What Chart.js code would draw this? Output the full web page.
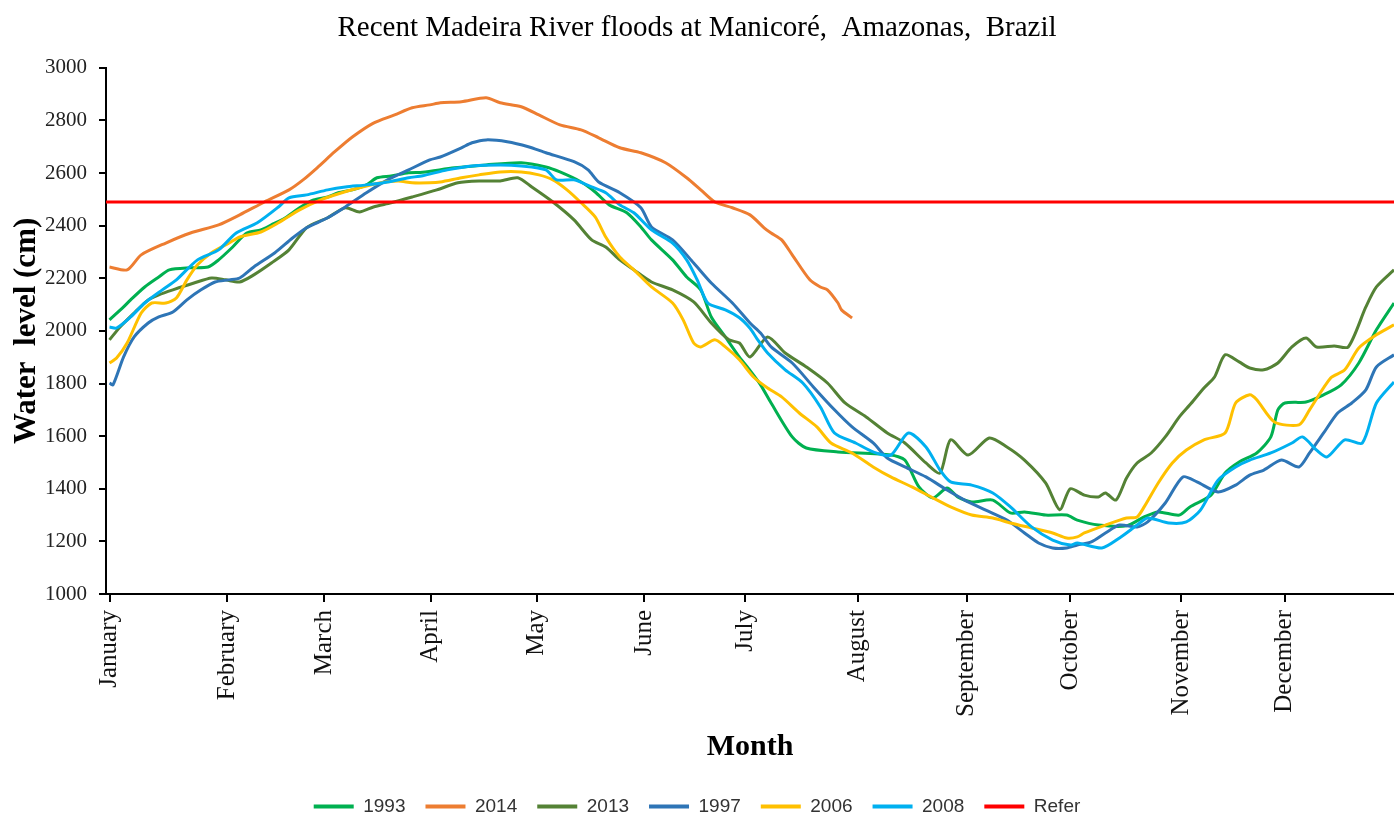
<!DOCTYPE html>
<html><head><meta charset="utf-8">
<script src="https://cdn.jsdelivr.net/npm/chart.js@4.4.1/dist/chart.umd.min.js"></script>
<style>html,body{margin:0;padding:0;background:#fff}</style>
</head><body>
<canvas id="c" width="1394" height="817"></canvas>
<script>
// ---- data (x = day of year, y = water level in cm) ----
const monthLabels = ['January','February','March','April','May','June','July','August','September','October','November','December'];
const monthTickDays = [0, 33.5, 61, 91.3, 121.4, 152, 180.6, 212.6, 243.6, 273, 304.5, 334];
const seriesNames = ['1993','2014','2013','1997','2006','2008','Refer'];
const referLevel = 2490;
const referDays = [-1, 365];

const lvl1993 = [[0,2042],[4,2091],[6,2118],[10,2167],[14,2205],[17,2232],[23,2240],[28,2243],[31,2270],[35,2319],[39,2372],[43,2384],[46,2403],[50,2430],[54,2468],[58,2498],[62,2509],[65,2525],[69,2536],[73,2555],[76,2582],[80,2589],[85,2601],[89,2603],[98,2620],[107,2631],[117,2639],[124,2623],[128,2604],[134,2566],[138,2528],[142,2479],[147,2449],[151,2395],[154,2346],[160,2270],[164,2205],[168,2156],[171,2053],[175,1977],[179,1900],[182,1850],[185,1795],[188,1726],[194,1597],[198,1555],[207,1540],[222,1528],[226,1509],[230,1407],[234,1365],[238,1403],[241,1369],[245,1350],[251,1357],[256,1308],[260,1312],[266,1300],[272,1300],[275,1281],[281,1262],[289,1259],[294,1293],[298,1312],[304,1300],[307,1331],[313,1376],[317,1460],[321,1502],[326,1536],[330,1597],[332,1700],[334,1726],[340,1730],[345,1757],[350,1795],[355,1878],[360,2004],[365,2106]];

const lvl2014 = [[0,2243],[5,2232],[9,2289],[16,2334],[23,2372],[31,2403],[37,2441],[44,2490],[51,2536],[55,2574],[59,2620],[64,2681],[69,2737],[75,2790],[81,2821],[86,2848],[91,2859],[94,2867],[100,2871],[107,2886],[111,2867],[117,2852],[122,2821],[128,2783],[134,2764],[139,2734],[145,2696],[151,2677],[158,2639],[164,2582],[168,2536],[172,2490],[177,2468],[182,2441],[186,2392],[188,2372],[191,2346],[194,2289],[199,2194],[202,2167],[204,2156],[207,2106],[208,2080],[211,2049]];

const lvl2013 = [[0,1966],[3,2015],[7,2068],[11,2118],[14,2137],[18,2156],[24,2182],[29,2201],[33,2194],[37,2186],[41,2213],[46,2258],[51,2308],[56,2392],[62,2430],[67,2468],[71,2452],[75,2471],[80,2487],[86,2509],[93,2536],[99,2563],[105,2570],[111,2570],[116,2582],[120,2547],[126,2490],[132,2422],[137,2346],[141,2319],[145,2270],[149,2232],[154,2186],[160,2156],[166,2110],[171,2030],[176,1966],[179,1954],[182,1901],[187,1977],[192,1916],[198,1863],[204,1802],[209,1726],[215,1673],[221,1612],[226,1574],[232,1498],[236,1460],[239,1586],[244,1528],[250,1593],[255,1559],[260,1509],[266,1422],[270,1320],[273,1400],[277,1376],[281,1369],[283,1384],[286,1357],[289,1441],[292,1498],[296,1536],[300,1597],[304,1673],[307,1719],[311,1783],[314,1825],[317,1909],[321,1882],[324,1859],[328,1852],[332,1878],[336,1939],[340,1973],[343,1939],[348,1943],[352,1939],[357,2091],[360,2167],[365,2232]];

const lvl1997 = [[0,1802],[1,1795],[4,1901],[7,1977],[11,2030],[14,2053],[18,2072],[22,2118],[26,2156],[30,2186],[34,2194],[37,2201],[41,2243],[47,2297],[52,2353],[56,2392],[62,2430],[67,2471],[73,2525],[79,2574],[85,2612],[91,2650],[94,2661],[100,2696],[103,2715],[107,2726],[113,2719],[119,2700],[124,2677],[132,2643],[136,2612],[139,2566],[145,2525],[151,2468],[154,2395],[160,2346],[166,2258],[171,2182],[177,2106],[182,2030],[185,1992],[188,1939],[194,1878],[200,1787],[206,1700],[211,1635],[217,1574],[221,1517],[226,1483],[232,1445],[238,1395],[243,1357],[249,1319],[255,1281],[260,1232],[264,1194],[268,1175],[272,1175],[275,1186],[279,1198],[283,1232],[287,1262],[292,1255],[295,1274],[300,1346],[305,1445],[309,1426],[315,1388],[320,1414],[324,1452],[328,1471],[333,1509],[338,1483],[341,1536],[345,1612],[349,1688],[353,1726],[357,1776],[360,1863],[365,1909]];

const lvl2006 = [[0,1878],[2,1897],[5,1954],[9,2068],[12,2106],[16,2106],[19,2125],[22,2194],[25,2251],[29,2297],[34,2334],[37,2357],[43,2376],[48,2411],[54,2460],[60,2498],[66,2525],[71,2544],[77,2563],[82,2570],[86,2563],[91,2563],[94,2566],[100,2582],[105,2593],[111,2604],[117,2604],[122,2593],[126,2574],[130,2536],[134,2487],[138,2433],[141,2357],[145,2281],[149,2232],[154,2167],[160,2106],[163,2042],[166,1954],[168,1939],[172,1966],[175,1939],[179,1890],[183,1825],[187,1783],[191,1749],[196,1688],[201,1635],[205,1574],[211,1536],[217,1483],[222,1445],[228,1407],[234,1365],[239,1331],[245,1300],[251,1289],[256,1270],[262,1251],[268,1232],[272,1213],[275,1217],[277,1232],[283,1262],[289,1289],[292,1293],[294,1331],[298,1422],[302,1498],[306,1547],[311,1586],[317,1612],[320,1726],[324,1757],[326,1738],[331,1654],[338,1643],[341,1700],[347,1821],[351,1852],[355,1935],[360,1985],[365,2023]];

const lvl2008 = [[0,2015],[2,2011],[6,2053],[10,2106],[15,2156],[19,2194],[25,2270],[31,2308],[36,2372],[42,2411],[48,2471],[51,2506],[56,2517],[62,2536],[67,2547],[73,2555],[79,2566],[85,2582],[89,2590],[96,2612],[103,2627],[111,2631],[117,2627],[124,2612],[127,2574],[132,2574],[137,2547],[141,2525],[145,2479],[149,2449],[154,2384],[160,2334],[164,2270],[167,2194],[170,2106],[175,2080],[179,2050],[182,2010],[184,1970],[187,1916],[192,1852],[197,1802],[202,1711],[206,1612],[212,1574],[217,1540],[222,1528],[227,1612],[232,1559],[236,1471],[239,1426],[245,1414],[251,1384],[256,1331],[262,1255],[268,1205],[273,1186],[275,1194],[282,1175],[287,1213],[292,1262],[295,1289],[301,1270],[306,1274],[310,1319],[315,1433],[320,1483],[324,1509],[330,1536],[336,1574],[339,1597],[343,1547],[346,1521],[351,1586],[356,1574],[360,1726],[365,1806]];

// ---- chart ----
const colors = ['#00B050','#ED7D31','#548235','#2E75B6','#FFC000','#00B0F0','#FF0000'];
const seriesData = [lvl1993, lvl2014, lvl2013, lvl1997, lvl2006, lvl2008, referDays.map(d => [d, referLevel])];

const datasets = seriesData.map((arr, i) => ({
  label: seriesNames[i],
  data: arr.map(p => ({x: p[0], y: p[1]})),
  borderColor: colors[i],
  backgroundColor: colors[i],
  borderWidth: 3,
  pointRadius: 0,
  tension: i === 6 ? 0 : 0.25,
  fill: false,
  order: seriesNames.length - 1 - i
}));

const serif = "'Liberation Serif', 'Times New Roman', serif";

new Chart(document.getElementById('c'), {
  type: 'line',
  data: { datasets },
  options: {
    responsive: false,
    animation: false,
    layout: { padding: { left: 0, right: 0, top: 0, bottom: -9 } },
    plugins: {
      title: {
        display: true,
        text: 'Recent Madeira River floods at Manicoré,  Amazonas,  Brazil',
        color: '#000',
        font: { family: serif, size: 29, weight: 'normal' },
        padding: { top: 11, bottom: 22 }
      },
      legend: {
        position: 'bottom',
        labels: {
          boxWidth: 40,
          boxHeight: 4,
          padding: 20,
          color: '#333',
          font: { family: "'Liberation Sans', Arial, sans-serif", size: 19 },
          sort: (a, b) => a.datasetIndex - b.datasetIndex,
          generateLabels: (chart) => {
            const items = Chart.defaults.plugins.legend.labels.generateLabels(chart);
            items.forEach(it => { it.fillStyle = it.strokeStyle; it.lineWidth = 0; });
            return items;
          }
        }
      },
      tooltip: { enabled: false }
    },
    scales: {
      x: {
        type: 'linear',
        min: -1,
        max: 365,
        afterFit: (s) => { s.height = 183; },
        afterBuildTicks: (s) => { s.ticks = monthTickDays.map(v => ({ value: v })); },
        border: { display: true, color: '#000', width: 2 },
        grid: { display: true, drawOnChartArea: false, drawTicks: true, tickLength: 8, color: '#000', lineWidth: 2 },
        ticks: {
          autoSkip: false,
          maxRotation: 90,
          minRotation: 90,
          padding: 8,
          color: '#111',
          font: { family: serif, size: 25 },
          callback: (v, i) => monthLabels[i]
        },
        title: {
          display: true,
          text: 'Month',
          color: '#000',
          font: { family: serif, size: 30, weight: 'bold' },
          padding: { top: 0, bottom: 12 }
        }
      },
      y: {
        min: 1000,
        max: 3000,
        afterFit: (s) => { s.width = 106; },
        border: { display: true, color: '#000', width: 2 },
        grid: { display: true, drawOnChartArea: false, drawTicks: true, tickLength: 7, color: '#000', lineWidth: 2 },
        ticks: {
          stepSize: 200,
          padding: 12,
          color: '#222',
          font: { family: serif, size: 21 },
          callback: (v) => String(v)
        },
        title: {
          display: true,
          text: 'Water  level (cm)',
          color: '#000',
          font: { family: serif, size: 31, weight: 'bold' },
          padding: { top: 8, bottom: 0 }
        }
      }
    }
  }
});
</script>
</body></html>
